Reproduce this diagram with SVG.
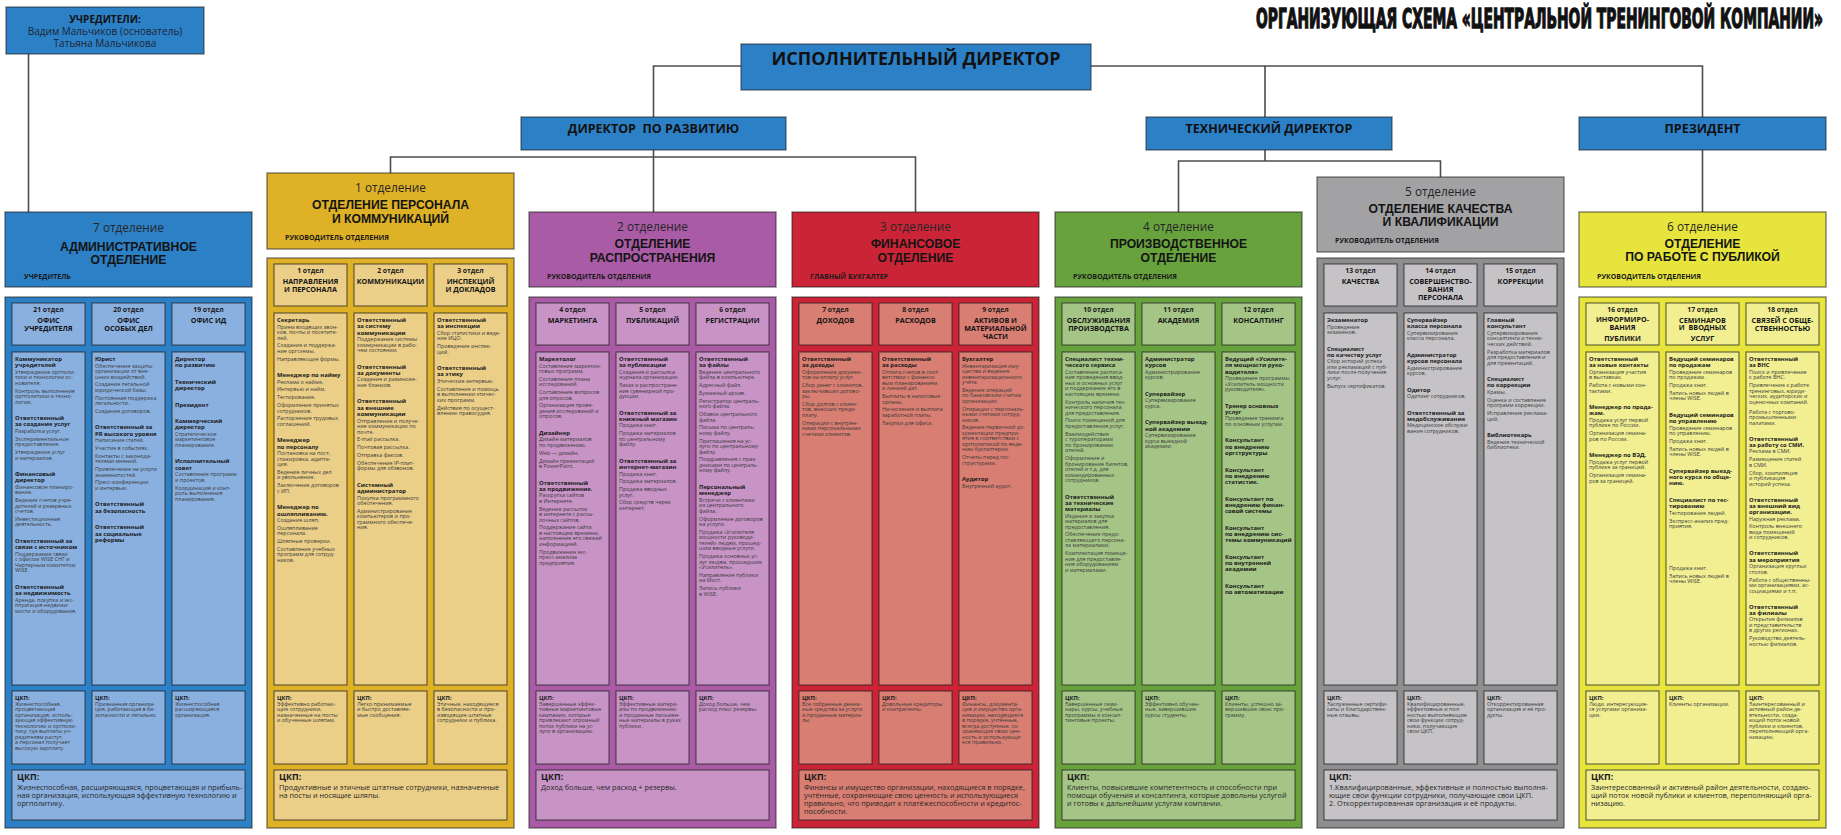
<svg xmlns="http://www.w3.org/2000/svg" width="1841" height="835" viewBox="0 0 1841 835">
<style>
text{font-family:"Open Sans","DejaVu Sans",sans-serif}
.hdr,.bod,.top{stroke:#1e1e1e;stroke-opacity:.55;stroke-width:1.4}
.inn{stroke:#1e1e1e;stroke-opacity:.7;stroke-width:1.1}
.top{fill:#2c80c6}
.blue .hdr,.blue .bod{fill:#2c80c6}.blue .inn{fill:#8ab0e0}
.gold .hdr,.gold .bod{fill:#dfb126}.gold .inn{fill:#ebcf88}
.purple .hdr,.purple .bod{fill:#aa5ba6}.purple .inn{fill:#c894c6}
.red .hdr,.red .bod{fill:#cc2437}.red .inn{fill:#d97e72}
.green .hdr,.green .bod{fill:#67a23d}.green .inn{fill:#a5c587}
.gray .hdr{fill:#a2a1a3}.gray .bod{fill:#8e8d8f}.gray .inn{fill:#c5c3c6}
.yellow .hdr,.yellow .bod{fill:#e7e53d}.yellow .inn{fill:#f1ef92}
.conn{fill:none;stroke:#4d4d4d;stroke-width:1.6}
.dn{font-size:11.8px;fill:#262626;text-anchor:middle}
.dt{font-family:"Liberation Sans",Arial,sans-serif;font-size:12.2px;font-weight:bold;fill:#141414;text-anchor:middle}
.dr{font-size:7px;font-weight:bold;fill:#1a1a1a}
.sn{font-size:6.8px;font-weight:bold;fill:#1a1a1a;text-anchor:middle}
.sh{font-size:7.2px;font-weight:bold;fill:#141414;text-anchor:middle}
.c{font-size:5.4px;fill:#3a3a3a}
.b{font-size:5.9px;font-weight:bold;fill:#1a1a1a}
.k{font-size:7.3px;fill:#262626}
.kh{font-size:9px;font-weight:bold;fill:#1a1a1a}
.tb{font-weight:bold;fill:#111;text-anchor:middle}
</style>

<text id="title" transform="translate(1823 27.5) scale(1 1.7)" x="0" y="0" font-size="16" font-weight="bold" fill="#111" stroke="#111" stroke-width="0.75" text-anchor="end" textLength="567" lengthAdjust="spacingAndGlyphs" style="font-family:'DejaVu Sans Condensed','DejaVu Sans',sans-serif">ОРГАНИЗУЮЩАЯ СХЕМА «ЦЕНТРАЛЬНОЙ ТРЕНИНГОВОЙ КОМПАНИИ»</text>

<g id="connectors">
<path class="conn" d="M28.5 54V212"/>
<path class="conn" d="M741 66H653.5V117"/>
<path class="conn" d="M653.5 150V212"/>
<path class="conn" d="M390.5 173V157H915.5V212"/>
<path class="conn" d="M1091 66H1702.5V117"/>
<path class="conn" d="M1265 66V117"/>
<path class="conn" d="M1265 150V161"/>
<path class="conn" d="M1178.5 212V161H1440.5V177"/>
<path class="conn" d="M1702.5 150V212"/>
</g>

<g id="founders">
<rect class="top" x="6" y="7" width="198" height="47"/>
<text class="tb" x="105" y="22.5" font-size="10px">УЧРЕДИТЕЛИ:</text>
<text x="105" y="34.5" font-size="10px" fill="#1e2533" text-anchor="middle">Вадим Мальчиков (основатель)</text>
<text x="105" y="46.5" font-size="10px" fill="#1e2533" text-anchor="middle">Татьяна Мальчикова</text>
</g>
<g id="executive-director">
<rect class="top" x="741" y="44" width="350" height="46"/>
<text class="tb" x="916" y="64.5" font-size="18px">ИСПОЛНИТЕЛЬНЫЙ ДИРЕКТОР</text>
</g>
<g id="director-development">
<rect class="top" x="521" y="117" width="265" height="33"/>
<text class="tb" x="653.5" y="132.5" font-size="12.5px" style="white-space:pre">ДИРЕКТОР  ПО РАЗВИТИЮ</text>
</g>
<g id="technical-director">
<rect class="top" x="1146" y="117" width="246" height="33"/>
<text class="tb" x="1269" y="132.5" font-size="12.5px">ТЕХНИЧЕСКИЙ ДИРЕКТОР</text>
</g>
<g id="president">
<rect class="top" x="1579" y="117" width="247" height="33"/>
<text class="tb" x="1702.5" y="132.5" font-size="12.5px">ПРЕЗИДЕНТ</text>
</g>

<!-- ============ 7 ОТДЕЛЕНИЕ ============ -->
<g id="dept-7" class="blue">
<rect class="hdr" x="5" y="212" width="247" height="75"/>
<text class="dn" x="128.5" y="231.5">7 отделение</text>
<text class="dt" y="250.5"><tspan x="128.5">АДМИНИСТРАТИВНОЕ</tspan><tspan x="128.5" dy="13.7">ОТДЕЛЕНИЕ</tspan></text>
<text class="dr" x="24" y="279">УЧРЕДИТЕЛЬ</text>
<rect class="bod" x="5" y="297" width="247" height="531"/>
<g id="div-21">
<rect class="inn" x="12" y="303" width="73" height="42"/>
<text class="sn" x="48.5" y="312">21 отдел</text>
<text class="sh" y="322.5"><tspan x="48.5">ОФИС</tspan><tspan x="48.5" dy="8">УЧРЕДИТЕЛЯ</tspan></text>
<rect class="inn" x="12" y="352" width="73" height="333"/>
<text class="c" y="361">
<tspan x="15" class="b">Коммуникатор</tspan>
<tspan x="15" dy="6.3" class="b">учредителей</tspan>
<tspan x="15" dy="6.5">Утверждение оргполи-</tspan>
<tspan x="15" dy="5.5">тики и технологии ос-</tspan>
<tspan x="15" dy="5.5">нователя.</tspan>
<tspan x="15" dy="7.8">Контроль выполнения</tspan>
<tspan x="15" dy="5.5">оргполитики и техно-</tspan>
<tspan x="15" dy="5.5">логии.</tspan>
<tspan x="15" dy="16.5" class="b">Ответственный</tspan>
<tspan x="15" dy="6.3" class="b">за создание услуг</tspan>
<tspan x="15" dy="6.5">Разработка услуг.</tspan>
<tspan x="15" dy="7.8">Экспериментальное</tspan>
<tspan x="15" dy="5.5">предоставление.</tspan>
<tspan x="15" dy="7.8">Утверждение услуг</tspan>
<tspan x="15" dy="5.5">и материалов.</tspan>
<tspan x="15" dy="16.5" class="b">Финансовый</tspan>
<tspan x="15" dy="6.3" class="b">директор</tspan>
<tspan x="15" dy="6.5">Финансовое планиро-</tspan>
<tspan x="15" dy="5.5">вание.</tspan>
<tspan x="15" dy="7.8">Ведение счетов учре-</tspan>
<tspan x="15" dy="5.5">дителей и резервных</tspan>
<tspan x="15" dy="5.5">счетов.</tspan>
<tspan x="15" dy="7.8">Инвестиционная</tspan>
<tspan x="15" dy="5.5">деятельность.</tspan>
<tspan x="15" dy="16.5" class="b">Ответственный за</tspan>
<tspan x="15" dy="6.3" class="b">связи с источником</tspan>
<tspan x="15" dy="6.5">Поддержание связи</tspan>
<tspan x="15" dy="5.5">с офисом WISE СНГ и</tspan>
<tspan x="15" dy="5.5">Чартерным комитетом</tspan>
<tspan x="15" dy="5.5">WISE.</tspan>
<tspan x="15" dy="16.5" class="b">Ответственный</tspan>
<tspan x="15" dy="6.3" class="b">за недвижимость</tspan>
<tspan x="15" dy="6.5">Аренда, покупка и экс-</tspan>
<tspan x="15" dy="5.5">плуатация недвижи-</tspan>
<tspan x="15" dy="5.5">мости и оборудования.</tspan>
</text>
<rect class="inn" x="12" y="691" width="73" height="73"/>
<text class="c" y="699.5">
<tspan x="15" class="b">ЦКП:</tspan>
<tspan x="15" dy="6.3">Жизнеспособная,</tspan>
<tspan x="15" dy="5.5">процветающая</tspan>
<tspan x="15" dy="5.5">организация, исполь-</tspan>
<tspan x="15" dy="5.5">зующая эффективную</tspan>
<tspan x="15" dy="5.5">технологию и оргполи-</tspan>
<tspan x="15" dy="5.5">тику, где выплаты уч-</tspan>
<tspan x="15" dy="5.5">редителям растут,</tspan>
<tspan x="15" dy="5.5">а персонал получает</tspan>
<tspan x="15" dy="5.5">высокую зарплату.</tspan>
</text>
</g>
<g id="div-20">
<rect class="inn" x="92" y="303" width="73" height="42"/>
<text class="sn" x="128.5" y="312">20 отдел</text>
<text class="sh" y="322.5"><tspan x="128.5">ОФИС</tspan><tspan x="128.5" dy="8">ОСОБЫХ ДЕЛ</tspan></text>
<rect class="inn" x="92" y="352" width="73" height="333"/>
<text class="c" y="361">
<tspan x="95" class="b">Юрист</tspan>
<tspan x="95" dy="6.5">Обеспечение защиты</tspan>
<tspan x="95" dy="5.5">организации от вне-</tspan>
<tspan x="95" dy="5.5">шних воздействий.</tspan>
<tspan x="95" dy="7.8">Создание легальной</tspan>
<tspan x="95" dy="5.5">юридической базы.</tspan>
<tspan x="95" dy="7.8">Постоянная поддержка</tspan>
<tspan x="95" dy="5.5">легальности.</tspan>
<tspan x="95" dy="7.8">Создание договоров.</tspan>
<tspan x="95" dy="16.5" class="b">Ответственный за</tspan>
<tspan x="95" dy="6.3" class="b">PR высокого уровня</tspan>
<tspan x="95" dy="6.5">Написание статей.</tspan>
<tspan x="95" dy="7.8">Участие в событиях.</tspan>
<tspan x="95" dy="7.8">Контакты с законода-</tspan>
<tspan x="95" dy="5.5">телями мнений.</tspan>
<tspan x="95" dy="7.8">Привлечение на услуги</tspan>
<tspan x="95" dy="5.5">знаменитостей.</tspan>
<tspan x="95" dy="7.8">Пресс-конференции</tspan>
<tspan x="95" dy="5.5">и интервью.</tspan>
<tspan x="95" dy="16.5" class="b">Ответственный</tspan>
<tspan x="95" dy="6.3" class="b">за безопасность</tspan>
<tspan x="95" dy="16.5" class="b">Ответственный</tspan>
<tspan x="95" dy="6.3" class="b">за социальные</tspan>
<tspan x="95" dy="6.3" class="b">реформы</tspan>
</text>
<rect class="inn" x="92" y="691" width="73" height="73"/>
<text class="c" y="699.5">
<tspan x="95" class="b">ЦКП:</tspan>
<tspan x="95" dy="6.3">Признанная организа-</tspan>
<tspan x="95" dy="5.5">ция, работающая в бе-</tspan>
<tspan x="95" dy="5.5">зопасности и легально.</tspan>
</text>
</g>
<g id="div-19">
<rect class="inn" x="172" y="303" width="73" height="42"/>
<text class="sn" x="208.5" y="312">19 отдел</text>
<text class="sh" x="208.5" y="322.5">ОФИС ИД</text>
<rect class="inn" x="172" y="352" width="73" height="333"/>
<text class="c" y="361">
<tspan x="175" class="b">Директор</tspan>
<tspan x="175" dy="6.3" class="b">по развитию</tspan>
<tspan x="175" dy="16.5" class="b">Технический</tspan>
<tspan x="175" dy="6.3" class="b">директор</tspan>
<tspan x="175" dy="16.5" class="b">Президент</tspan>
<tspan x="175" dy="16.5" class="b">Коммерческий</tspan>
<tspan x="175" dy="6.3" class="b">директор</tspan>
<tspan x="175" dy="6.5">Стратегическое</tspan>
<tspan x="175" dy="5.5">маркетинговое</tspan>
<tspan x="175" dy="5.5">планирование.</tspan>
<tspan x="175" dy="16.5" class="b">Исполнительный</tspan>
<tspan x="175" dy="6.3" class="b">совет</tspan>
<tspan x="175" dy="6.5">Составление программ</tspan>
<tspan x="175" dy="5.5">и проектов.</tspan>
<tspan x="175" dy="7.8">Координация и конт-</tspan>
<tspan x="175" dy="5.5">роль выполнения</tspan>
<tspan x="175" dy="5.5">планирования.</tspan>
</text>
<rect class="inn" x="172" y="691" width="73" height="73"/>
<text class="c" y="699.5">
<tspan x="175" class="b">ЦКП:</tspan>
<tspan x="175" dy="6.3">Жизнеспособная</tspan>
<tspan x="175" dy="5.5">расширяющаяся</tspan>
<tspan x="175" dy="5.5">организация.</tspan>
</text>
</g>
<rect class="inn" x="12" y="770" width="233" height="50"/>
<text class="k" y="780">
<tspan x="17" class="kh">ЦКП:</tspan>
<tspan x="17" dy="10">Жизнеспособная, расширяющаяся, процветающая и прибыль-</tspan>
<tspan x="17" dy="8">ная организация, использующая эффективную технологию и</tspan>
<tspan x="17" dy="8">оргполитику.</tspan>
</text>
</g>

<!-- ============ 1 ОТДЕЛЕНИЕ ============ -->
<g id="dept-1" class="gold">
<rect class="hdr" x="267" y="173" width="247" height="76"/>
<text class="dn" x="390.5" y="191.5">1 отделение</text>
<text class="dt" y="209"><tspan x="390.5">ОТДЕЛЕНИЕ ПЕРСОНАЛА</tspan><tspan x="390.5" dy="13.7">И КОММУНИКАЦИЙ</tspan></text>
<text class="dr" x="285" y="240">РУКОВОДИТЕЛЬ ОТДЕЛЕНИЯ</text>
<rect class="bod" x="267" y="258" width="247" height="570"/>
<g id="div-1">
<rect class="inn" x="274" y="264" width="73" height="42"/>
<text class="sn" x="310.5" y="273">1 отдел</text>
<text class="sh" y="283.5"><tspan x="310.5">НАПРАВЛЕНИЯ</tspan><tspan x="310.5" dy="8">И ПЕРСОНАЛА</tspan></text>
<rect class="inn" x="274" y="313" width="73" height="372"/>
<text class="c" y="322">
<tspan x="277" class="b">Секретарь</tspan>
<tspan x="277" dy="6.5">Прием входящих звон-</tspan>
<tspan x="277" dy="5.5">ков, почты и посетите-</tspan>
<tspan x="277" dy="5.5">лей.</tspan>
<tspan x="277" dy="7.8">Создание и поддержа-</tspan>
<tspan x="277" dy="5.5">ние оргсхемы.</tspan>
<tspan x="277" dy="7.8">Направляющие формы.</tspan>
<tspan x="277" dy="16.5" class="b">Менеджер по найму</tspan>
<tspan x="277" dy="6.5">Реклама о найме.</tspan>
<tspan x="277" dy="7.8">Интервью и найм.</tspan>
<tspan x="277" dy="7.8">Тестирование.</tspan>
<tspan x="277" dy="7.8">Оформление принятых</tspan>
<tspan x="277" dy="5.5">сотрудников.</tspan>
<tspan x="277" dy="7.8">Расторжение трудовых</tspan>
<tspan x="277" dy="5.5">соглашений.</tspan>
<tspan x="277" dy="16.5" class="b">Менеджер</tspan>
<tspan x="277" dy="6.3" class="b">по персоналу</tspan>
<tspan x="277" dy="6.5">Постановка на пост,</tspan>
<tspan x="277" dy="5.5">стажировка, адапта-</tspan>
<tspan x="277" dy="5.5">ция.</tspan>
<tspan x="277" dy="7.8">Ведение личных дел</tspan>
<tspan x="277" dy="5.5">и увольнение.</tspan>
<tspan x="277" dy="7.8">Заключение договоров</tspan>
<tspan x="277" dy="5.5">с ИП.</tspan>
<tspan x="277" dy="16.5" class="b">Менеджер по</tspan>
<tspan x="277" dy="6.3" class="b">ошляпливанию.</tspan>
<tspan x="277" dy="6.5">Создание шляп.</tspan>
<tspan x="277" dy="7.8">Ошляпливание</tspan>
<tspan x="277" dy="5.5">персонала.</tspan>
<tspan x="277" dy="7.8">Шляпные проверки.</tspan>
<tspan x="277" dy="7.8">Составление учебных</tspan>
<tspan x="277" dy="5.5">программ для сотруд-</tspan>
<tspan x="277" dy="5.5">ников.</tspan>
</text>
<rect class="inn" x="274" y="691" width="73" height="73"/>
<text class="c" y="699.5">
<tspan x="277" class="b">ЦКП:</tspan>
<tspan x="277" dy="6.3">Эффективно работаю-</tspan>
<tspan x="277" dy="5.5">щие сотрудники,</tspan>
<tspan x="277" dy="5.5">назначенные на посты</tspan>
<tspan x="277" dy="5.5">и обученные шляпам.</tspan>
</text>
</g>
<g id="div-2">
<rect class="inn" x="354" y="264" width="73" height="42"/>
<text class="sn" x="390.5" y="273">2 отдел</text>
<text class="sh" x="390.5" y="283.5">КОММУНИКАЦИИ</text>
<rect class="inn" x="354" y="313" width="73" height="372"/>
<text class="c" y="322">
<tspan x="357" class="b">Ответственный</tspan>
<tspan x="357" dy="6.3" class="b">за систему</tspan>
<tspan x="357" dy="6.3" class="b">коммуникации</tspan>
<tspan x="357" dy="6.5">Поддержание системы</tspan>
<tspan x="357" dy="5.5">коммуникации в рабо-</tspan>
<tspan x="357" dy="5.5">чем состоянии.</tspan>
<tspan x="357" dy="16.5" class="b">Ответственный</tspan>
<tspan x="357" dy="6.3" class="b">за документы</tspan>
<tspan x="357" dy="6.5">Создание и размноже-</tspan>
<tspan x="357" dy="5.5">ние бланков.</tspan>
<tspan x="357" dy="16.5" class="b">Ответственный</tspan>
<tspan x="357" dy="6.3" class="b">за внешние</tspan>
<tspan x="357" dy="6.3" class="b">коммуникации</tspan>
<tspan x="357" dy="6.5">Отправление и получе-</tspan>
<tspan x="357" dy="5.5">ние коммуникации по</tspan>
<tspan x="357" dy="5.5">почте.</tspan>
<tspan x="357" dy="7.8">E-mail рассылка.</tspan>
<tspan x="357" dy="7.8">Почтовая рассылка.</tspan>
<tspan x="357" dy="7.8">Отправка факсов.</tspan>
<tspan x="357" dy="7.8">Обеспечение IP-плат-</tspan>
<tspan x="357" dy="5.5">формы для обзвонов.</tspan>
<tspan x="357" dy="16.5" class="b">Системный</tspan>
<tspan x="357" dy="6.3" class="b">администратор</tspan>
<tspan x="357" dy="6.5">Покупка программного</tspan>
<tspan x="357" dy="5.5">обеспечения.</tspan>
<tspan x="357" dy="7.8">Администрирование</tspan>
<tspan x="357" dy="5.5">компьютеров и про-</tspan>
<tspan x="357" dy="5.5">граммного обеспече-</tspan>
<tspan x="357" dy="5.5">ния.</tspan>
</text>
<rect class="inn" x="354" y="691" width="73" height="73"/>
<text class="c" y="699.5">
<tspan x="357" class="b">ЦКП:</tspan>
<tspan x="357" dy="6.3">Легко принимаемые</tspan>
<tspan x="357" dy="5.5">и быстро доставляе-</tspan>
<tspan x="357" dy="5.5">мые сообщения.</tspan>
</text>
</g>
<g id="div-3">
<rect class="inn" x="434" y="264" width="73" height="42"/>
<text class="sn" x="470.5" y="273">3 отдел</text>
<text class="sh" y="283.5"><tspan x="470.5">ИНСПЕКЦИЙ</tspan><tspan x="470.5" dy="8">И ДОКЛАДОВ</tspan></text>
<rect class="inn" x="434" y="313" width="73" height="372"/>
<text class="c" y="322">
<tspan x="437" class="b">Ответственный</tspan>
<tspan x="437" dy="6.3" class="b">за инспекции</tspan>
<tspan x="437" dy="6.5">Сбор статистики и веде-</tspan>
<tspan x="437" dy="5.5">ние ИЦО.</tspan>
<tspan x="437" dy="7.8">Проведение инспек-</tspan>
<tspan x="437" dy="5.5">ций.</tspan>
<tspan x="437" dy="16.5" class="b">Ответственный</tspan>
<tspan x="437" dy="6.3" class="b">за этику</tspan>
<tspan x="437" dy="6.5">Этические интервью.</tspan>
<tspan x="437" dy="7.8">Составление и помощь</tspan>
<tspan x="437" dy="5.5">в выполнении этичес-</tspan>
<tspan x="437" dy="5.5">ких программ.</tspan>
<tspan x="437" dy="7.8">Действия по осущест-</tspan>
<tspan x="437" dy="5.5">влению правосудия.</tspan>
</text>
<rect class="inn" x="434" y="691" width="73" height="73"/>
<text class="c" y="699.5">
<tspan x="437" class="b">ЦКП:</tspan>
<tspan x="437" dy="6.3">Этичные, находящиеся</tspan>
<tspan x="437" dy="5.5">в безопасности и про-</tspan>
<tspan x="437" dy="5.5">изводящие штатные</tspan>
<tspan x="437" dy="5.5">сотрудники и публика.</tspan>
</text>
</g>
<rect class="inn" x="274" y="770" width="233" height="50"/>
<text class="k" y="780">
<tspan x="279" class="kh">ЦКП:</tspan>
<tspan x="279" dy="10">Продуктивные и этичные штатные сотрудники, назначенные</tspan>
<tspan x="279" dy="8">на посты и носящие шляпы.</tspan>
</text>
</g>

<!-- ============ 2 ОТДЕЛЕНИЕ ============ -->
<g id="dept-2" class="purple">
<rect class="hdr" x="529" y="212" width="247" height="75"/>
<text class="dn" x="652.5" y="230.5">2 отделение</text>
<text class="dt" y="248"><tspan x="652.5">ОТДЕЛЕНИЕ</tspan><tspan x="652.5" dy="13.7">РАСПРОСТРАНЕНИЯ</tspan></text>
<text class="dr" x="547" y="279">РУКОВОДИТЕЛЬ ОТДЕЛЕНИЯ</text>
<rect class="bod" x="529" y="297" width="247" height="531"/>
<g id="div-4">
<rect class="inn" x="536" y="303" width="73" height="42"/>
<text class="sn" x="572.5" y="312">4 отдел</text>
<text class="sh" x="572.5" y="322.5">МАРКЕТИНГА</text>
<rect class="inn" x="536" y="352" width="73" height="333"/>
<text class="c" y="361">
<tspan x="539" class="b">Маркетолог</tspan>
<tspan x="539" dy="6.5">Составление маркетин-</tspan>
<tspan x="539" dy="5.5">говых программ.</tspan>
<tspan x="539" dy="7.8">Составление плана</tspan>
<tspan x="539" dy="5.5">исследований.</tspan>
<tspan x="539" dy="7.8">Составление вопросов</tspan>
<tspan x="539" dy="5.5">для опросов.</tspan>
<tspan x="539" dy="7.8">Организация прове-</tspan>
<tspan x="539" dy="5.5">дения исследований и</tspan>
<tspan x="539" dy="5.5">опросов.</tspan>
<tspan x="539" dy="16.5" class="b">Дизайнер</tspan>
<tspan x="539" dy="6.5">Дизайн материалов</tspan>
<tspan x="539" dy="5.5">по продвижению.</tspan>
<tspan x="539" dy="7.8">Web — дизайн.</tspan>
<tspan x="539" dy="7.8">Дизайн презентаций</tspan>
<tspan x="539" dy="5.5">в PowerPoint.</tspan>
<tspan x="539" dy="16.5" class="b">Ответственный</tspan>
<tspan x="539" dy="6.3" class="b">за продвижение.</tspan>
<tspan x="539" dy="6.5">Раскрутка сайтов</tspan>
<tspan x="539" dy="5.5">в Интернете.</tspan>
<tspan x="539" dy="7.8">Ведение рассылок</tspan>
<tspan x="539" dy="5.5">в интернете с рассы-</tspan>
<tspan x="539" dy="5.5">лочных сайтов.</tspan>
<tspan x="539" dy="7.8">Поддержание сайта</tspan>
<tspan x="539" dy="5.5">в настоящем времени,</tspan>
<tspan x="539" dy="5.5">наполнение его свежей</tspan>
<tspan x="539" dy="5.5">информацией.</tspan>
<tspan x="539" dy="7.8">Продвижение экс-</tspan>
<tspan x="539" dy="5.5">пресс-анализа</tspan>
<tspan x="539" dy="5.5">предприятия.</tspan>
</text>
<rect class="inn" x="536" y="691" width="73" height="73"/>
<text class="c" y="699.5">
<tspan x="539" class="b">ЦКП:</tspan>
<tspan x="539" dy="6.3">Завершенные эффек-</tspan>
<tspan x="539" dy="5.5">тивные маркетинговые</tspan>
<tspan x="539" dy="5.5">кампании, которые</tspan>
<tspan x="539" dy="5.5">привлекают огромный</tspan>
<tspan x="539" dy="5.5">поток публики на ус-</tspan>
<tspan x="539" dy="5.5">луги в организацию.</tspan>
</text>
</g>
<g id="div-5">
<rect class="inn" x="616" y="303" width="73" height="42"/>
<text class="sn" x="652.5" y="312">5 отдел</text>
<text class="sh" x="652.5" y="322.5">ПУБЛИКАЦИЙ</text>
<rect class="inn" x="616" y="352" width="73" height="333"/>
<text class="c" y="361">
<tspan x="619" class="b">Ответственный</tspan>
<tspan x="619" dy="6.3" class="b">за публикации</tspan>
<tspan x="619" dy="6.5">Создание и рассылка</tspan>
<tspan x="619" dy="5.5">журнала организации.</tspan>
<tspan x="619" dy="7.8">Заказ и распростране-</tspan>
<tspan x="619" dy="5.5">ние сувенирной про-</tspan>
<tspan x="619" dy="5.5">дукции.</tspan>
<tspan x="619" dy="16.5" class="b">Ответственный за</tspan>
<tspan x="619" dy="6.3" class="b">книжный магазин</tspan>
<tspan x="619" dy="6.5">Продажа книг.</tspan>
<tspan x="619" dy="7.8">Продажа материалов</tspan>
<tspan x="619" dy="5.5">по центральному</tspan>
<tspan x="619" dy="5.5">файлу.</tspan>
<tspan x="619" dy="16.5" class="b">Ответственный за</tspan>
<tspan x="619" dy="6.3" class="b">интернет-магазин</tspan>
<tspan x="619" dy="6.5">Продажа книг.</tspan>
<tspan x="619" dy="7.8">Продажа материалов.</tspan>
<tspan x="619" dy="7.8">Продажа вводных</tspan>
<tspan x="619" dy="5.5">услуг.</tspan>
<tspan x="619" dy="7.8">Сбор средств через</tspan>
<tspan x="619" dy="5.5">интернет.</tspan>
</text>
<rect class="inn" x="616" y="691" width="73" height="73"/>
<text class="c" y="699.5">
<tspan x="619" class="b">ЦКП:</tspan>
<tspan x="619" dy="6.3">Эффективные матери-</tspan>
<tspan x="619" dy="5.5">алы по продвижению</tspan>
<tspan x="619" dy="5.5">и проданные письмен-</tspan>
<tspan x="619" dy="5.5">ные материалы в руках</tspan>
<tspan x="619" dy="5.5">публики.</tspan>
</text>
</g>
<g id="div-6">
<rect class="inn" x="696" y="303" width="73" height="42"/>
<text class="sn" x="732.5" y="312">6 отдел</text>
<text class="sh" x="732.5" y="322.5">РЕГИСТРАЦИИ</text>
<rect class="inn" x="696" y="352" width="73" height="333"/>
<text class="c" y="361">
<tspan x="699" class="b">Ответственный</tspan>
<tspan x="699" dy="6.3" class="b">за файлы</tspan>
<tspan x="699" dy="6.5">Ведение центрального</tspan>
<tspan x="699" dy="5.5">файла в компьютере.</tspan>
<tspan x="699" dy="7.8">Адресный файл.</tspan>
<tspan x="699" dy="7.8">Бумажный архив.</tspan>
<tspan x="699" dy="7.8">Регистратор централь-</tspan>
<tspan x="699" dy="5.5">ного файла.</tspan>
<tspan x="699" dy="7.8">Обзвон центрального</tspan>
<tspan x="699" dy="5.5">файла.</tspan>
<tspan x="699" dy="7.8">Письма по централь-</tspan>
<tspan x="699" dy="5.5">ному файлу.</tspan>
<tspan x="699" dy="7.8">Приглашения на ус-</tspan>
<tspan x="699" dy="5.5">луги по центральному</tspan>
<tspan x="699" dy="5.5">файлу.</tspan>
<tspan x="699" dy="7.8">Поздравления с праз-</tspan>
<tspan x="699" dy="5.5">дниками по централь-</tspan>
<tspan x="699" dy="5.5">ному файлу.</tspan>
<tspan x="699" dy="16.5" class="b">Персональный</tspan>
<tspan x="699" dy="6.3" class="b">менеджер</tspan>
<tspan x="699" dy="6.5">Встречи с клиентами</tspan>
<tspan x="699" dy="5.5">из центрального</tspan>
<tspan x="699" dy="5.5">файла.</tspan>
<tspan x="699" dy="7.8">Оформление договоров</tspan>
<tspan x="699" dy="5.5">на услуги.</tspan>
<tspan x="699" dy="7.8">Продажа «Усилителя</tspan>
<tspan x="699" dy="5.5">мощности руководи-</tspan>
<tspan x="699" dy="5.5">телей» людям, прошед-</tspan>
<tspan x="699" dy="5.5">шим вводные услуги.</tspan>
<tspan x="699" dy="7.8">Продажа основных ус-</tspan>
<tspan x="699" dy="5.5">луг людям, прошедшим</tspan>
<tspan x="699" dy="5.5">«Усилитель».</tspan>
<tspan x="699" dy="7.8">Направление публики</tspan>
<tspan x="699" dy="5.5">на Мост.</tspan>
<tspan x="699" dy="7.8">Запись публики</tspan>
<tspan x="699" dy="5.5">в WISE.</tspan>
</text>
<rect class="inn" x="696" y="691" width="73" height="73"/>
<text class="c" y="699.5">
<tspan x="699" class="b">ЦКП:</tspan>
<tspan x="699" dy="6.3">Доход больше, чем</tspan>
<tspan x="699" dy="5.5">расход плюс резервы.</tspan>
</text>
</g>
<rect class="inn" x="536" y="770" width="233" height="50"/>
<text class="k" y="780">
<tspan x="541" class="kh">ЦКП:</tspan>
<tspan x="541" dy="10">Доход больше, чем расход + резервы.</tspan>
</text>
</g>

<!-- ============ 3 ОТДЕЛЕНИЕ ============ -->
<g id="dept-3" class="red">
<rect class="hdr" x="792" y="212" width="247" height="75"/>
<text class="dn" x="915.5" y="230.5">3 отделение</text>
<text class="dt" y="248"><tspan x="915.5">ФИНАНСОВОЕ</tspan><tspan x="915.5" dy="13.7">ОТДЕЛЕНИЕ</tspan></text>
<text class="dr" x="810" y="279">ГЛАВНЫЙ БУХГАЛТЕР</text>
<rect class="bod" x="792" y="297" width="247" height="531"/>
<g id="div-7">
<rect class="inn" x="799" y="303" width="73" height="42"/>
<text class="sn" x="835.5" y="312">7 отдел</text>
<text class="sh" x="835.5" y="322.5">ДОХОДОВ</text>
<rect class="inn" x="799" y="352" width="73" height="333"/>
<text class="c" y="361">
<tspan x="802" class="b">Ответственный</tspan>
<tspan x="802" dy="6.3" class="b">за доходы</tspan>
<tspan x="802" dy="6.5">Оформление докумен-</tspan>
<tspan x="802" dy="5.5">тов на оплату услуг.</tspan>
<tspan x="802" dy="7.8">Сбор денег с клиентов,</tspan>
<tspan x="802" dy="5.5">заключивших догово-</tspan>
<tspan x="802" dy="5.5">ры.</tspan>
<tspan x="802" dy="7.8">Сбор долгов с клиен-</tspan>
<tspan x="802" dy="5.5">тов, внесших предо-</tspan>
<tspan x="802" dy="5.5">плату.</tspan>
<tspan x="802" dy="7.8">Операции с внутрен-</tspan>
<tspan x="802" dy="5.5">ними персональными</tspan>
<tspan x="802" dy="5.5">счетами клиентов.</tspan>
</text>
<rect class="inn" x="799" y="691" width="73" height="73"/>
<text class="c" y="699.5">
<tspan x="802" class="b">ЦКП:</tspan>
<tspan x="802" dy="6.3">Все собранные денеж-</tspan>
<tspan x="802" dy="5.5">ные средства за услуги</tspan>
<tspan x="802" dy="5.5">и проданные материа-</tspan>
<tspan x="802" dy="5.5">лы.</tspan>
</text>
</g>
<g id="div-8">
<rect class="inn" x="879" y="303" width="73" height="42"/>
<text class="sn" x="915.5" y="312">8 отдел</text>
<text class="sh" x="915.5" y="322.5">РАСХОДОВ</text>
<rect class="inn" x="879" y="352" width="73" height="333"/>
<text class="c" y="361">
<tspan x="882" class="b">Ответственный</tspan>
<tspan x="882" dy="6.3" class="b">за расходы</tspan>
<tspan x="882" dy="6.5">Оплата счетов в соот-</tspan>
<tspan x="882" dy="5.5">ветствии с финансо-</tspan>
<tspan x="882" dy="5.5">вым планированием</tspan>
<tspan x="882" dy="5.5">и линией дат.</tspan>
<tspan x="882" dy="7.8">Выплаты в налоговые</tspan>
<tspan x="882" dy="5.5">органы.</tspan>
<tspan x="882" dy="7.8">Начисление и выплата</tspan>
<tspan x="882" dy="5.5">заработной платы.</tspan>
<tspan x="882" dy="7.8">Закупки для офиса.</tspan>
</text>
<rect class="inn" x="879" y="691" width="73" height="73"/>
<text class="c" y="699.5">
<tspan x="882" class="b">ЦКП:</tspan>
<tspan x="882" dy="6.3">Довольные кредиторы</tspan>
<tspan x="882" dy="5.5">и контрагенты.</tspan>
</text>
</g>
<g id="div-9">
<rect class="inn" x="959" y="303" width="73" height="42"/>
<text class="sn" x="995.5" y="312">9 отдел</text>
<text class="sh" y="322.5"><tspan x="995.5">АКТИВОВ И</tspan><tspan x="995.5" dy="8">МАТЕРИАЛЬНОЙ</tspan><tspan x="995.5" dy="8">ЧАСТИ</tspan></text>
<rect class="inn" x="959" y="352" width="73" height="333"/>
<text class="c" y="361">
<tspan x="962" class="b">Бухгалтер</tspan>
<tspan x="962" dy="6.5">Инвентаризация иму-</tspan>
<tspan x="962" dy="5.5">щества и ведение</tspan>
<tspan x="962" dy="5.5">инвентаризационного</tspan>
<tspan x="962" dy="5.5">учёта.</tspan>
<tspan x="962" dy="7.8">Ведение операций</tspan>
<tspan x="962" dy="5.5">по банковским счетам</tspan>
<tspan x="962" dy="5.5">организации.</tspan>
<tspan x="962" dy="7.8">Операции с персональ-</tspan>
<tspan x="962" dy="5.5">ными счетами сотруд-</tspan>
<tspan x="962" dy="5.5">ников.</tspan>
<tspan x="962" dy="7.8">Ведение первичной до-</tspan>
<tspan x="962" dy="5.5">кументации предпри-</tspan>
<tspan x="962" dy="5.5">ятия в соответствии с</tspan>
<tspan x="962" dy="5.5">оргполитикой по веде-</tspan>
<tspan x="962" dy="5.5">нию бухгалтерии.</tspan>
<tspan x="962" dy="7.8">Отчеты перед гос-</tspan>
<tspan x="962" dy="5.5">структурами.</tspan>
<tspan x="962" dy="16.5" class="b">Аудитор</tspan>
<tspan x="962" dy="6.5">Внутренний аудит.</tspan>
</text>
<rect class="inn" x="959" y="691" width="73" height="73"/>
<text class="c" y="699.5">
<tspan x="962" class="b">ЦКП:</tspan>
<tspan x="962" dy="6.3">Финансы, документа-</tspan>
<tspan x="962" dy="5.5">ция и имущество орга-</tspan>
<tspan x="962" dy="5.5">низации, находящиеся</tspan>
<tspan x="962" dy="5.5">в порядке, учтённые,</tspan>
<tspan x="962" dy="5.5">всегда доступные, со-</tspan>
<tspan x="962" dy="5.5">храняющие свою цен-</tspan>
<tspan x="962" dy="5.5">ность и использующи-</tspan>
<tspan x="962" dy="5.5">еся правильно.</tspan>
</text>
</g>
<rect class="inn" x="799" y="770" width="233" height="50"/>
<text class="k" y="780">
<tspan x="804" class="kh">ЦКП:</tspan>
<tspan x="804" dy="10">Финансы и имущество организации, находящиеся в порядке,</tspan>
<tspan x="804" dy="8">учтённые, сохраняющие свою ценность и использующиеся</tspan>
<tspan x="804" dy="8">правильно, что приводит к платёжеспособности и кредитос-</tspan>
<tspan x="804" dy="8">пособности.</tspan>
</text>
</g>

<!-- ============ 4 ОТДЕЛЕНИЕ ============ -->
<g id="dept-4" class="green">
<rect class="hdr" x="1055" y="212" width="247" height="75"/>
<text class="dn" x="1178.5" y="230.5">4 отделение</text>
<text class="dt" y="248"><tspan x="1178.5">ПРОИЗВОДСТВЕННОЕ</tspan><tspan x="1178.5" dy="13.7">ОТДЕЛЕНИЕ</tspan></text>
<text class="dr" x="1073" y="279">РУКОВОДИТЕЛЬ ОТДЕЛЕНИЯ</text>
<rect class="bod" x="1055" y="297" width="247" height="531"/>
<g id="div-10">
<rect class="inn" x="1062" y="303" width="73" height="42"/>
<text class="sn" x="1098.5" y="312">10 отдел</text>
<text class="sh" y="322.5"><tspan x="1098.5">ОБСЛУЖИВАНИЯ</tspan><tspan x="1098.5" dy="8">ПРОИЗВОДСТВА</tspan></text>
<rect class="inn" x="1062" y="352" width="73" height="333"/>
<text class="c" y="361">
<tspan x="1065" class="b">Специалист техни-</tspan>
<tspan x="1065" dy="6.3" class="b">ческого сервиса</tspan>
<tspan x="1065" dy="6.5">Составление расписа-</tspan>
<tspan x="1065" dy="5.5">ния проведения ввод-</tspan>
<tspan x="1065" dy="5.5">ных и основных услуг</tspan>
<tspan x="1065" dy="5.5">и поддержание его в</tspan>
<tspan x="1065" dy="5.5">настоящем времени.</tspan>
<tspan x="1065" dy="7.8">Контроль наличия тех-</tspan>
<tspan x="1065" dy="5.5">нического персонала</tspan>
<tspan x="1065" dy="5.5">для предоставления.</tspan>
<tspan x="1065" dy="7.8">Поиск помещений для</tspan>
<tspan x="1065" dy="5.5">предоставления услуг.</tspan>
<tspan x="1065" dy="7.8">Взаимодействие</tspan>
<tspan x="1065" dy="5.5">с туроператорами</tspan>
<tspan x="1065" dy="5.5">по бронированию</tspan>
<tspan x="1065" dy="5.5">отелей.</tspan>
<tspan x="1065" dy="7.8">Оформление и</tspan>
<tspan x="1065" dy="5.5">бронирование билетов,</tspan>
<tspan x="1065" dy="5.5">отелей и т.д. для</tspan>
<tspan x="1065" dy="5.5">командированных</tspan>
<tspan x="1065" dy="5.5">сотрудников.</tspan>
<tspan x="1065" dy="16.5" class="b">Ответственный</tspan>
<tspan x="1065" dy="6.3" class="b">за технические</tspan>
<tspan x="1065" dy="6.3" class="b">материалы</tspan>
<tspan x="1065" dy="6.5">Издание и закупка</tspan>
<tspan x="1065" dy="5.5">материалов для</tspan>
<tspan x="1065" dy="5.5">предоставления.</tspan>
<tspan x="1065" dy="7.8">Обеспечение предо-</tspan>
<tspan x="1065" dy="5.5">ставляющего персона-</tspan>
<tspan x="1065" dy="5.5">ла материалами.</tspan>
<tspan x="1065" dy="7.8">Комплектация помеще-</tspan>
<tspan x="1065" dy="5.5">ния для предоставле-</tspan>
<tspan x="1065" dy="5.5">ния оборудованием</tspan>
<tspan x="1065" dy="5.5">и материалами.</tspan>
</text>
<rect class="inn" x="1062" y="691" width="73" height="73"/>
<text class="c" y="699.5">
<tspan x="1065" class="b">ЦКП:</tspan>
<tspan x="1065" dy="6.3">Завершенные семи-</tspan>
<tspan x="1065" dy="5.5">нары, курсы, учебные</tspan>
<tspan x="1065" dy="5.5">программы и консал-</tspan>
<tspan x="1065" dy="5.5">тинговые проекты.</tspan>
</text>
</g>
<g id="div-11">
<rect class="inn" x="1142" y="303" width="73" height="42"/>
<text class="sn" x="1178.5" y="312">11 отдел</text>
<text class="sh" x="1178.5" y="322.5">АКАДЕМИЯ</text>
<rect class="inn" x="1142" y="352" width="73" height="333"/>
<text class="c" y="361">
<tspan x="1145" class="b">Администратор</tspan>
<tspan x="1145" dy="6.3" class="b">курсов</tspan>
<tspan x="1145" dy="6.5">Администрирование</tspan>
<tspan x="1145" dy="5.5">курсов.</tspan>
<tspan x="1145" dy="16.5" class="b">Супервайзер</tspan>
<tspan x="1145" dy="6.5">Супервизирование</tspan>
<tspan x="1145" dy="5.5">курса.</tspan>
<tspan x="1145" dy="16.5" class="b">Супервайзер выезд-</tspan>
<tspan x="1145" dy="6.3" class="b">ной академии</tspan>
<tspan x="1145" dy="6.5">Супервизирование</tspan>
<tspan x="1145" dy="5.5">курса выездной</tspan>
<tspan x="1145" dy="5.5">академии.</tspan>
</text>
<rect class="inn" x="1142" y="691" width="73" height="73"/>
<text class="c" y="699.5">
<tspan x="1145" class="b">ЦКП:</tspan>
<tspan x="1145" dy="6.3">Эффективно обучен-</tspan>
<tspan x="1145" dy="5.5">ные, завершившие</tspan>
<tspan x="1145" dy="5.5">курсы студенты.</tspan>
</text>
</g>
<g id="div-12">
<rect class="inn" x="1222" y="303" width="73" height="42"/>
<text class="sn" x="1258.5" y="312">12 отдел</text>
<text class="sh" x="1258.5" y="322.5">КОНСАЛТИНГ</text>
<rect class="inn" x="1222" y="352" width="73" height="333"/>
<text class="c" y="361">
<tspan x="1225" class="b">Ведущий «Усилите-</tspan>
<tspan x="1225" dy="6.3" class="b">ля мощности руко-</tspan>
<tspan x="1225" dy="6.3" class="b">водителя»</tspan>
<tspan x="1225" dy="6.5">Проведение программы</tspan>
<tspan x="1225" dy="5.5">«Усилитель мощности</tspan>
<tspan x="1225" dy="5.5">руководителя».</tspan>
<tspan x="1225" dy="16.5" class="b">Тренер основных</tspan>
<tspan x="1225" dy="6.3" class="b">услуг</tspan>
<tspan x="1225" dy="6.5">Проведение тренинга</tspan>
<tspan x="1225" dy="5.5">по основным услугам.</tspan>
<tspan x="1225" dy="16.5" class="b">Консультант</tspan>
<tspan x="1225" dy="6.3" class="b">по внедрению</tspan>
<tspan x="1225" dy="6.3" class="b">оргструктуры</tspan>
<tspan x="1225" dy="16.5" class="b">Консультант</tspan>
<tspan x="1225" dy="6.3" class="b">по внедрению</tspan>
<tspan x="1225" dy="6.3" class="b">статистик.</tspan>
<tspan x="1225" dy="16.5" class="b">Консультант по</tspan>
<tspan x="1225" dy="6.3" class="b">внедрению финан-</tspan>
<tspan x="1225" dy="6.3" class="b">совой системы</tspan>
<tspan x="1225" dy="16.5" class="b">Консультант</tspan>
<tspan x="1225" dy="6.3" class="b">по внедрению сис-</tspan>
<tspan x="1225" dy="6.3" class="b">темы коммуникаций</tspan>
<tspan x="1225" dy="16.5" class="b">Консультант</tspan>
<tspan x="1225" dy="6.3" class="b">по внутренней</tspan>
<tspan x="1225" dy="6.3" class="b">академии</tspan>
<tspan x="1225" dy="16.5" class="b">Консультант</tspan>
<tspan x="1225" dy="6.3" class="b">по автоматизации</tspan>
</text>
<rect class="inn" x="1222" y="691" width="73" height="73"/>
<text class="c" y="699.5">
<tspan x="1225" class="b">ЦКП:</tspan>
<tspan x="1225" dy="6.3">Клиенты, успешно за-</tspan>
<tspan x="1225" dy="5.5">вершившие свою про-</tspan>
<tspan x="1225" dy="5.5">грамму.</tspan>
</text>
</g>
<rect class="inn" x="1062" y="770" width="233" height="50"/>
<text class="k" y="780">
<tspan x="1067" class="kh">ЦКП:</tspan>
<tspan x="1067" dy="10">Клиенты, повысившие компетентность и способности при</tspan>
<tspan x="1067" dy="8">помощи обучения и консалтинга, которые довольны услугой</tspan>
<tspan x="1067" dy="8">и готовы к дальнейшим услугам компании.</tspan>
</text>
</g>

<!-- ============ 5 ОТДЕЛЕНИЕ ============ -->
<g id="dept-5" class="gray">
<rect class="hdr" x="1317" y="177" width="247" height="75"/>
<text class="dn" x="1440.5" y="195.5">5 отделение</text>
<text class="dt" y="212.5"><tspan x="1440.5">ОТДЕЛЕНИЕ КАЧЕСТВА</tspan><tspan x="1440.5" dy="13.7">И КВАЛИФИКАЦИИ</tspan></text>
<text class="dr" x="1335" y="243">РУКОВОДИТЕЛЬ ОТДЕЛЕНИЯ</text>
<rect class="bod" x="1317" y="258" width="247" height="570"/>
<g id="div-13">
<rect class="inn" x="1324" y="264" width="73" height="42"/>
<text class="sn" x="1360.5" y="273">13 отдел</text>
<text class="sh" x="1360.5" y="283.5">КАЧЕСТВА</text>
<rect class="inn" x="1324" y="313" width="73" height="372"/>
<text class="c" y="322">
<tspan x="1327" class="b">Экзаменатор</tspan>
<tspan x="1327" dy="6.5">Проведение</tspan>
<tspan x="1327" dy="5.5">экзаменов.</tspan>
<tspan x="1327" dy="16.5" class="b">Специалист</tspan>
<tspan x="1327" dy="6.3" class="b">по качеству услуг</tspan>
<tspan x="1327" dy="6.5">Сбор историй успеха</tspan>
<tspan x="1327" dy="5.5">или рекламаций с пуб-</tspan>
<tspan x="1327" dy="5.5">лики после получения</tspan>
<tspan x="1327" dy="5.5">услуг.</tspan>
<tspan x="1327" dy="7.8">Выпуск сертификатов.</tspan>
</text>
<rect class="inn" x="1324" y="691" width="73" height="73"/>
<text class="c" y="699.5">
<tspan x="1327" class="b">ЦКП:</tspan>
<tspan x="1327" dy="6.3">Заслуженные сертифи-</tspan>
<tspan x="1327" dy="5.5">каты и благодарствен-</tspan>
<tspan x="1327" dy="5.5">ные отзывы.</tspan>
</text>
</g>
<g id="div-14">
<rect class="inn" x="1404" y="264" width="73" height="42"/>
<text class="sn" x="1440.5" y="273">14 отдел</text>
<text class="sh" y="283.5"><tspan x="1440.5">СОВЕРШЕНСТВО-</tspan><tspan x="1440.5" dy="8">ВАНИЯ</tspan><tspan x="1440.5" dy="8">ПЕРСОНАЛА</tspan></text>
<rect class="inn" x="1404" y="313" width="73" height="372"/>
<text class="c" y="322">
<tspan x="1407" class="b">Супервайзер</tspan>
<tspan x="1407" dy="6.3" class="b">класса персонала</tspan>
<tspan x="1407" dy="6.5">Супервизирование</tspan>
<tspan x="1407" dy="5.5">класса персонала.</tspan>
<tspan x="1407" dy="16.5" class="b">Администратор</tspan>
<tspan x="1407" dy="6.3" class="b">курсов персонала</tspan>
<tspan x="1407" dy="6.5">Администрирование</tspan>
<tspan x="1407" dy="5.5">курсов.</tspan>
<tspan x="1407" dy="16.5" class="b">Одитор</tspan>
<tspan x="1407" dy="6.5">Одитинг сотрудников.</tspan>
<tspan x="1407" dy="16.5" class="b">Ответственный за</tspan>
<tspan x="1407" dy="6.3" class="b">медобслуживание</tspan>
<tspan x="1407" dy="6.5">Медицинское обслужи-</tspan>
<tspan x="1407" dy="5.5">вание сотрудников.</tspan>
</text>
<rect class="inn" x="1404" y="691" width="73" height="73"/>
<text class="c" y="699.5">
<tspan x="1407" class="b">ЦКП:</tspan>
<tspan x="1407" dy="6.3">Квалифицированные,</tspan>
<tspan x="1407" dy="5.5">эффективные и пол-</tspan>
<tspan x="1407" dy="5.5">ностью выполняющие</tspan>
<tspan x="1407" dy="5.5">свои функции сотруд-</tspan>
<tspan x="1407" dy="5.5">ники, получающие</tspan>
<tspan x="1407" dy="5.5">свои ЦКП.</tspan>
</text>
</g>
<g id="div-15">
<rect class="inn" x="1484" y="264" width="73" height="42"/>
<text class="sn" x="1520.5" y="273">15 отдел</text>
<text class="sh" x="1520.5" y="283.5">КОРРЕКЦИИ</text>
<rect class="inn" x="1484" y="313" width="73" height="372"/>
<text class="c" y="322">
<tspan x="1487" class="b">Главный</tspan>
<tspan x="1487" dy="6.3" class="b">консультант</tspan>
<tspan x="1487" dy="6.5">Супервизирование</tspan>
<tspan x="1487" dy="5.5">консалтинга и техни-</tspan>
<tspan x="1487" dy="5.5">ческих действий.</tspan>
<tspan x="1487" dy="7.8">Разработка материалов</tspan>
<tspan x="1487" dy="5.5">для предоставления и</tspan>
<tspan x="1487" dy="5.5">для презентаций.</tspan>
<tspan x="1487" dy="16.5" class="b">Специалист</tspan>
<tspan x="1487" dy="6.3" class="b">по коррекции</tspan>
<tspan x="1487" dy="6.5">Крамы.</tspan>
<tspan x="1487" dy="7.8">Оценка и составление</tspan>
<tspan x="1487" dy="5.5">программ коррекции.</tspan>
<tspan x="1487" dy="7.8">Исправление реклама-</tspan>
<tspan x="1487" dy="5.5">ций.</tspan>
<tspan x="1487" dy="16.5" class="b">Библиотекарь</tspan>
<tspan x="1487" dy="6.5">Ведение технической</tspan>
<tspan x="1487" dy="5.5">библиотеки.</tspan>
</text>
<rect class="inn" x="1484" y="691" width="73" height="73"/>
<text class="c" y="699.5">
<tspan x="1487" class="b">ЦКП:</tspan>
<tspan x="1487" dy="6.3">Откорректированная</tspan>
<tspan x="1487" dy="5.5">организация и её про-</tspan>
<tspan x="1487" dy="5.5">дукты.</tspan>
</text>
</g>
<rect class="inn" x="1324" y="770" width="233" height="50"/>
<text class="k" y="780">
<tspan x="1329" class="kh">ЦКП:</tspan>
<tspan x="1329" dy="10">1.Квалифицированные, эффективные и полностью выполня-</tspan>
<tspan x="1329" dy="8">ющие свои функции сотрудники, получающие свои ЦКП.</tspan>
<tspan x="1329" dy="8">2. Откорректированная организация и её продукты.</tspan>
</text>
</g>

<!-- ============ 6 ОТДЕЛЕНИЕ ============ -->
<g id="dept-6" class="yellow">
<rect class="hdr" x="1579" y="212" width="247" height="75"/>
<text class="dn" x="1702.5" y="230.5">6 отделение</text>
<text class="dt" y="247.5"><tspan x="1702.5">ОТДЕЛЕНИЕ</tspan><tspan x="1702.5" dy="13.7">ПО РАБОТЕ С ПУБЛИКОЙ</tspan></text>
<text class="dr" x="1597" y="279">РУКОВОДИТЕЛЬ ОТДЕЛЕНИЯ</text>
<rect class="bod" x="1579" y="297" width="247" height="531"/>
<g id="div-16">
<rect class="inn" x="1586" y="303" width="73" height="42"/>
<text class="sn" x="1622.5" y="312">16 отдел</text>
<text class="sh" y="322"><tspan x="1622.5">ИНФОРМИРО-</tspan><tspan x="1622.5" dy="7.5">ВАНИЯ</tspan><tspan x="1622.5" dy="11.5">ПУБЛИКИ</tspan></text>
<rect class="inn" x="1586" y="352" width="73" height="333"/>
<text class="c" y="361">
<tspan x="1589" class="b">Ответственный</tspan>
<tspan x="1589" dy="6.3" class="b">за новые контакты</tspan>
<tspan x="1589" dy="6.5">Организация участия</tspan>
<tspan x="1589" dy="5.5">в выставках.</tspan>
<tspan x="1589" dy="7.8">Работа с новыми кон-</tspan>
<tspan x="1589" dy="5.5">тактами.</tspan>
<tspan x="1589" dy="16.5" class="b">Менеджер по прода-</tspan>
<tspan x="1589" dy="6.3" class="b">жам.</tspan>
<tspan x="1589" dy="6.5">Продажа услуг первой</tspan>
<tspan x="1589" dy="5.5">публике по России.</tspan>
<tspan x="1589" dy="7.8">Организация семина-</tspan>
<tspan x="1589" dy="5.5">ров по России.</tspan>
<tspan x="1589" dy="16.5" class="b">Менеджер по ВЭД.</tspan>
<tspan x="1589" dy="6.5">Продажа услуг первой</tspan>
<tspan x="1589" dy="5.5">публике за границей.</tspan>
<tspan x="1589" dy="7.8">Организация семина-</tspan>
<tspan x="1589" dy="5.5">ров за границей.</tspan>
</text>
<rect class="inn" x="1586" y="691" width="73" height="73"/>
<text class="c" y="699.5">
<tspan x="1589" class="b">ЦКП:</tspan>
<tspan x="1589" dy="6.3">Люди, интересующие-</tspan>
<tspan x="1589" dy="5.5">ся услугами организа-</tspan>
<tspan x="1589" dy="5.5">ции.</tspan>
</text>
</g>
<g id="div-17">
<rect class="inn" x="1666" y="303" width="73" height="42"/>
<text class="sn" x="1702.5" y="312">17 отдел</text>
<text class="sh" y="322.5" style="white-space:pre"><tspan x="1702.5">СЕМИНАРОВ</tspan><tspan x="1702.5" dy="7.5">И  ВВОДНЫХ</tspan><tspan x="1702.5" dy="11">УСЛУГ</tspan></text>
<rect class="inn" x="1666" y="352" width="73" height="333"/>
<text class="c" y="361">
<tspan x="1669" class="b">Ведущий семинаров</tspan>
<tspan x="1669" dy="6.3" class="b">по продажам</tspan>
<tspan x="1669" dy="6.5">Проведение семинаров</tspan>
<tspan x="1669" dy="5.5">по продажам .</tspan>
<tspan x="1669" dy="7.8">Продажа книг.</tspan>
<tspan x="1669" dy="7.8">Запись новых людей в</tspan>
<tspan x="1669" dy="5.5">члены WISE.</tspan>
<tspan x="1669" dy="16.5" class="b">Ведущий семинаров</tspan>
<tspan x="1669" dy="6.3" class="b">по управлению</tspan>
<tspan x="1669" dy="6.5">Проведение семинаров</tspan>
<tspan x="1669" dy="5.5">по управлению.</tspan>
<tspan x="1669" dy="7.8">Продажа книг.</tspan>
<tspan x="1669" dy="7.8">Запись новых людей в</tspan>
<tspan x="1669" dy="5.5">члены WISE.</tspan>
<tspan x="1669" dy="16.5" class="b">Супервайзер выезд-</tspan>
<tspan x="1669" dy="6.3" class="b">ного курса по обще-</tspan>
<tspan x="1669" dy="6.3" class="b">нию.</tspan>
<tspan x="1669" dy="16.5" class="b">Специалист по тес-</tspan>
<tspan x="1669" dy="6.3" class="b">тированию</tspan>
<tspan x="1669" dy="6.5">Тестирование людей.</tspan>
<tspan x="1669" dy="7.8">Экспресс-анализ пред-</tspan>
<tspan x="1669" dy="5.5">приятия.</tspan>
<tspan x="1669" dy="42">Продажа книг.</tspan>
<tspan x="1669" dy="7.8">Запись новых людей в</tspan>
<tspan x="1669" dy="5.5">члены WISE.</tspan>
</text>
<rect class="inn" x="1666" y="691" width="73" height="73"/>
<text class="c" y="699.5">
<tspan x="1669" class="b">ЦКП:</tspan>
<tspan x="1669" dy="6.3">Клиенты организации.</tspan>
</text>
</g>
<g id="div-18">
<rect class="inn" x="1746" y="303" width="73" height="42"/>
<text class="sn" x="1782.5" y="312">18 отдел</text>
<text class="sh" y="322.5"><tspan x="1782.5">СВЯЗЕЙ С ОБЩЕ-</tspan><tspan x="1782.5" dy="8">СТВЕННОСТЬЮ</tspan></text>
<rect class="inn" x="1746" y="352" width="73" height="333"/>
<text class="c" y="361">
<tspan x="1749" class="b">Ответственный</tspan>
<tspan x="1749" dy="6.3" class="b">за ВНС</tspan>
<tspan x="1749" dy="6.5">Поиск и привлечение</tspan>
<tspan x="1749" dy="5.5">к работе ВНС.</tspan>
<tspan x="1749" dy="7.8">Привлечение к работе</tspan>
<tspan x="1749" dy="5.5">тренинговых, юриди-</tspan>
<tspan x="1749" dy="5.5">ческих, аудиторских и</tspan>
<tspan x="1749" dy="5.5">оценочных компаний.</tspan>
<tspan x="1749" dy="10">Работа с торгово-</tspan>
<tspan x="1749" dy="5.5">промышленными</tspan>
<tspan x="1749" dy="5.5">палатами.</tspan>
<tspan x="1749" dy="16" class="b">Ответственный</tspan>
<tspan x="1749" dy="6.3" class="b">за работу со СМИ.</tspan>
<tspan x="1749" dy="6.5">Реклама в СМИ.</tspan>
<tspan x="1749" dy="7.8">Размещение статей</tspan>
<tspan x="1749" dy="5.5">в СМИ.</tspan>
<tspan x="1749" dy="7.8">Сбор, компиляция</tspan>
<tspan x="1749" dy="5.5">и публикация</tspan>
<tspan x="1749" dy="5.5">историй успеха.</tspan>
<tspan x="1749" dy="16" class="b">Ответственный</tspan>
<tspan x="1749" dy="6.3" class="b">за внешний вид</tspan>
<tspan x="1749" dy="6.3" class="b">организации.</tspan>
<tspan x="1749" dy="6.5">Наружная реклама.</tspan>
<tspan x="1749" dy="7.8">Контроль внешнего</tspan>
<tspan x="1749" dy="5.5">вида помещений</tspan>
<tspan x="1749" dy="5.5">и сотрудников.</tspan>
<tspan x="1749" dy="16" class="b">Ответственный</tspan>
<tspan x="1749" dy="6.3" class="b">за мероприятия</tspan>
<tspan x="1749" dy="6.5">Организация круглых</tspan>
<tspan x="1749" dy="5.5">столов.</tspan>
<tspan x="1749" dy="7.8">Работа с общественны-</tspan>
<tspan x="1749" dy="5.5">ми организациями, ас-</tspan>
<tspan x="1749" dy="5.5">социациями и т.п.</tspan>
<tspan x="1749" dy="16" class="b">Ответственный</tspan>
<tspan x="1749" dy="6.3" class="b">за филиалы</tspan>
<tspan x="1749" dy="6.5">Открытие филиалов</tspan>
<tspan x="1749" dy="5.5">и представительств</tspan>
<tspan x="1749" dy="5.5">в других регионах.</tspan>
<tspan x="1749" dy="7.8">Руководство деятель-</tspan>
<tspan x="1749" dy="5.5">ностью филиалов.</tspan>
</text>
<rect class="inn" x="1746" y="691" width="73" height="73"/>
<text class="c" y="699.5">
<tspan x="1749" class="b">ЦКП:</tspan>
<tspan x="1749" dy="6.3">Заинтересованный и</tspan>
<tspan x="1749" dy="5.5">активный район де-</tspan>
<tspan x="1749" dy="5.5">ятельности, созда-</tspan>
<tspan x="1749" dy="5.5">ющий поток новой</tspan>
<tspan x="1749" dy="5.5">публики и клиентов,</tspan>
<tspan x="1749" dy="5.5">переполняющий орга-</tspan>
<tspan x="1749" dy="5.5">низацию.</tspan>
</text>
</g>
<rect class="inn" x="1586" y="770" width="233" height="50"/>
<text class="k" y="780">
<tspan x="1591" class="kh">ЦКП:</tspan>
<tspan x="1591" dy="10">Заинтересованный и активный район деятельности, создаю-</tspan>
<tspan x="1591" dy="8">щий поток новой публики и клиентов, переполняющий орга-</tspan>
<tspan x="1591" dy="8">низацию.</tspan>
</text>
</g>
</svg>
